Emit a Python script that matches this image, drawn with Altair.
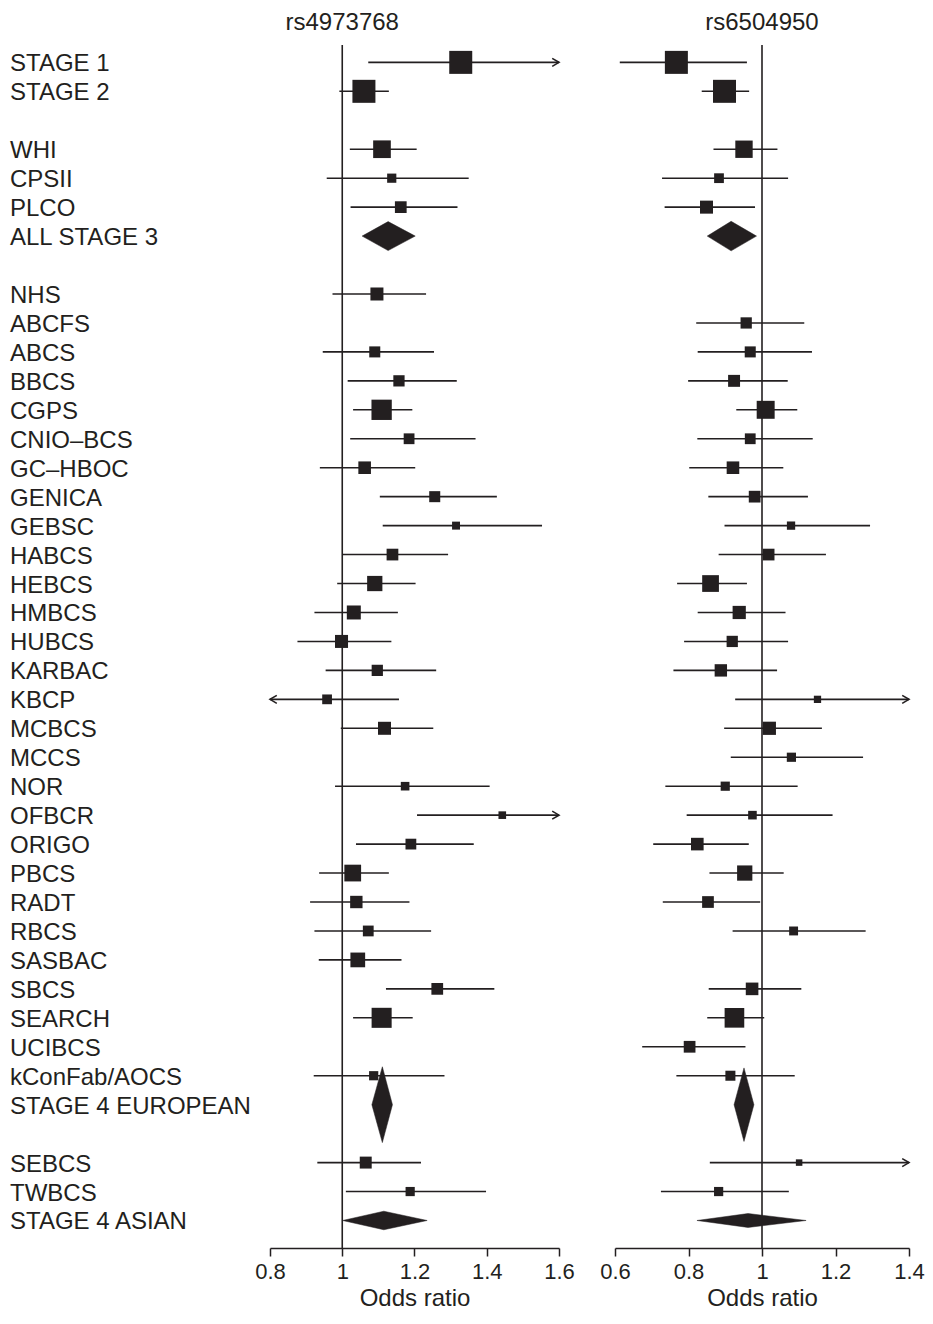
import altair as alt
import pandas as pd

INK = "#231f20"
FONT = "Liberation Sans"

# ---- row labels (top to bottom; "" = blank spacer row) ----
labels = ["STAGE 1", "STAGE 2", "", "WHI", "CPSII", "PLCO", "ALL STAGE 3", "",
          "NHS", "ABCFS", "ABCS", "BBCS", "CGPS", "CNIO–BCS", "GC–HBOC", "GENICA",
          "GEBSC", "HABCS", "HEBCS", "HMBCS", "HUBCS", "KARBAC", "KBCP", "MCBCS",
          "MCCS", "NOR", "OFBCR", "ORIGO", "PBCS", "RADT", "RBCS", "SASBAC", "SBCS",
          "SEARCH", "UCIBCS", "kConFab/AOCS", "STAGE 4 EUROPEAN", "",
          "SEBCS", "TWBCS", "STAGE 4 ASIAN"]

# ---- individual studies (squares) ----
study_names = ["STAGE 1", "STAGE 2", "WHI", "CPSII", "PLCO", "NHS", "ABCFS", "ABCS",
               "BBCS", "CGPS", "CNIO–BCS", "GC–HBOC", "GENICA", "GEBSC", "HABCS",
               "HEBCS", "HMBCS", "HUBCS", "KARBAC", "KBCP", "MCBCS", "MCCS", "NOR",
               "OFBCR", "ORIGO", "PBCS", "RADT", "RBCS", "SASBAC", "SBCS", "SEARCH",
               "UCIBCS", "kConFab/AOCS", "SEBCS", "TWBCS"]

# rs4973768
l_or = [1.328, 1.060, 1.110, 1.137, 1.162, 1.096, None, 1.090, 1.157, 1.109, 1.185,
        1.062, 1.256, 1.315, 1.139, 1.090, 1.032, 0.998, 1.097, 0.958, 1.117, None,
        1.174, 1.443, 1.190, 1.029, 1.039, 1.072, 1.043, 1.263, 1.109, None, 1.087,
        1.065, 1.188]
l_lo = [1.072, 0.992, 1.021, 0.957, 1.023, 0.973, None, 0.946, 1.015, 1.030, 1.022,
        0.938, 1.104, 1.112, 1.001, 0.986, 0.923, 0.876, 0.954, 0.780, 0.996, None,
        0.980, 1.207, 1.038, 0.936, 0.911, 0.923, 0.935, 1.121, 1.030, None, 0.921,
        0.931, 1.010]
l_hi = [1.650, 1.129, 1.206, 1.350, 1.319, 1.232, None, 1.254, 1.317, 1.194, 1.369,
        1.202, 1.428, 1.553, 1.293, 1.203, 1.154, 1.136, 1.260, 1.157, 1.252, None,
        1.408, 1.720, 1.364, 1.129, 1.186, 1.246, 1.164, 1.421, 1.195, None, 1.283,
        1.218, 1.398]
l_wt = [100, 100, 59, 16, 26, 32, None, 23, 24, 78, 22, 30, 23, 12, 26, 44, 37, 32,
        24, 18, 32, None, 14, 11, 22, 53, 29, 22, 41, 26, 76, None, 16, 27, 16]

# rs6504950
r_or = [0.767, 0.898, 0.951, 0.883, 0.849, None, 0.957, 0.968, 0.924, 1.010, 0.968,
        0.921, 0.980, 1.079, 1.018, 0.860, 0.938, 0.919, 0.888, 1.151, 1.020, 1.080,
        0.900, 0.974, 0.824, 0.953, 0.853, 1.086, None, 0.973, 0.925, 0.803, 0.914,
        1.101, 0.882]
r_lo = [0.613, 0.836, 0.868, 0.728, 0.735, None, 0.821, 0.825, 0.799, 0.930, 0.824,
        0.802, 0.854, 0.898, 0.882, 0.769, 0.825, 0.788, 0.759, 0.927, 0.897, 0.915,
        0.737, 0.795, 0.704, 0.857, 0.730, 0.920, None, 0.855, 0.851, 0.674, 0.767,
        0.858, 0.725]
r_hi = [0.959, 0.965, 1.042, 1.071, 0.981, None, 1.115, 1.136, 1.070, 1.096, 1.138,
        1.058, 1.125, 1.294, 1.174, 0.959, 1.064, 1.071, 1.041, 1.450, 1.163, 1.275,
        1.097, 1.192, 0.964, 1.059, 0.995, 1.282, None, 1.107, 1.006, 0.955, 1.089,
        1.430, 1.073]
r_wt = [100, 100, 57, 18, 32, None, 24, 23, 27, 61, 22, 30, 26, 13, 26, 53, 33, 24,
        29, 10, 33, 16, 16, 14, 30, 44, 26, 15, None, 30, 73, 26, 19, 8, 16]

# ---- pooled estimates (diamonds) ----
pooled_names = ["ALL STAGE 3", "STAGE 4 EUROPEAN", "STAGE 4 ASIAN"]
lp_or = [1.127, 1.111, 1.115]
lp_lo = [1.055, 1.082, 1.001]
lp_hi = [1.202, 1.139, 1.235]
lp_half = [0.50, 1.31, 0.32]   # diamond half-height, in rows
rp_or = [0.916, 0.951, 0.962]
rp_lo = [0.851, 0.924, 0.823]
rp_hi = [0.985, 0.978, 1.120]
rp_half = [0.51, 1.27, 0.24]

titles = ["rs4973768", "rs6504950"]
l_domain, l_ticks = [0.8, 1.6], [0.8, 1.0, 1.2, 1.4, 1.6]
r_domain, r_ticks = [0.6, 1.4], [0.6, 0.8, 1.0, 1.2, 1.4]

ROW_TOP, ROW_BOTTOM = -0.6, 40.95
ROW_PX = 28.95
PLOT_H = round((ROW_BOTTOM - ROW_TOP) * ROW_PX)

ARROW_R = "M -1.7 -1 L 0 0 L -1.7 1"
ARROW_L = "M 1.7 -1 L 0 0 L 1.7 1"


def panel(title, est, lo, hi, wt, p_est, p_lo, p_hi, p_half, domain, ticks, width,
          with_labels):
    xmin, xmax = domain
    axis = alt.Axis(values=ticks, format=".1~f", grid=False, domainColor=INK,
                    domainWidth=1.5, tickColor=INK, tickWidth=1.5, tickSize=8,
                    labelFont=FONT, labelFontSize=22, labelColor=INK, labelPadding=5,
                    labelFlush=False, labelOverlap=False, titleFont=FONT,
                    titleFontSize=24, titleFontWeight="normal", titleColor=INK,
                    titlePadding=4)
    xs = alt.Scale(domain=domain, nice=False, zero=False)
    ys = alt.Scale(domain=[ROW_TOP, ROW_BOTTOM], reverse=True, nice=False, zero=False)

    def X(f, **kw):
        return alt.X(f, type="quantitative", scale=xs, axis=axis, title="Odds ratio",
                     **kw)

    def Y(f, **kw):
        return alt.Y(f, type="quantitative", scale=ys, axis=None, **kw)

    recs, arrows = [], []
    for name, e, l, h, w in zip(study_names, est, lo, hi, wt):
        if e is None:
            continue
        r = labels.index(name)
        recs.append(dict(row=r, est=e, lo=max(l, xmin), hi=min(h, xmax), w=w))
        if h > xmax:
            arrows.append(dict(row=r, x=xmax, dir="right"))
        if l < xmin:
            arrows.append(dict(row=r, x=xmin, dir="left"))
    sd = pd.DataFrame(recs)
    ad = pd.DataFrame(arrows)

    ref = pd.DataFrame({"x": [1.0], "y": [ROW_TOP], "y2": [ROW_BOTTOM], "t": [title]})

    vline = alt.Chart(ref).mark_rule(color=INK, strokeWidth=1.6).encode(
        x=X("x"), y=Y("y"), y2=alt.Y2("y2"))
    ci = alt.Chart(sd).mark_rule(color=INK, strokeWidth=1.6).encode(
        x=X("lo"), x2=alt.X2("hi"), y=Y("row"))
    arr = alt.Chart(ad).mark_point(filled=False, color=INK, strokeWidth=1.6,
                                   opacity=1, size=64).encode(
        x=X("x"), y=Y("row"),
        shape=alt.Shape("dir:N", scale=alt.Scale(domain=["right", "left"],
                                                 range=[ARROW_R, ARROW_L]),
                        legend=None))
    sq = alt.Chart(sd).mark_point(shape="square", filled=True, color=INK,
                                  opacity=1, strokeWidth=0).encode(
        x=X("est"), y=Y("row"),
        size=alt.Size("w:Q", scale=alt.Scale(domain=[0, 100], range=[0, 529]),
                      legend=None))

    # one filled area per pooled estimate: lo -> (est, +/- half) -> hi
    diamonds = []
    for name, e, l, h, hh in zip(pooled_names, p_est, p_lo, p_hi, p_half):
        r = labels.index(name)
        dd = pd.DataFrame({"x": [l, e, h], "y": [r, r - hh, r],
                           "y2": [r, r + hh, r]})
        diamonds.append(
            alt.Chart(dd).mark_area(color=INK, opacity=1, interpolate="linear",
                                    orient="vertical", stroke=INK,
                                    strokeWidth=0.5).encode(
                x=X("x"), y=Y("y", stack=None), y2=alt.Y2("y2")))

    ttl = alt.Chart(ref).mark_text(font=FONT, fontSize=24, color=INK, align="center",
                                   baseline="alphabetic").encode(
        x=X("x"), y=alt.value(-15), text="t:N")
    layers = [vline, ci, arr] + diamonds + [sq, ttl]
    if with_labels:
        ld = pd.DataFrame({"label": labels, "row": list(range(len(labels)))})
        ld = ld[ld["label"] != ""]
        lab = alt.Chart(ld).mark_text(font=FONT, fontSize=24, color=INK,
                                      align="left", baseline="middle", dy=2).encode(
            x=alt.value(-260), y=Y("row"), text="label:N")
        layers.append(lab)
    return alt.layer(*layers).properties(width=width, height=PLOT_H)


left = panel(titles[0], l_or, l_lo, l_hi, l_wt, lp_or, lp_lo, lp_hi, lp_half,
             l_domain, l_ticks, 289, True)
right = panel(titles[1], r_or, r_lo, r_hi, r_wt, rp_or, rp_lo, rp_hi, rp_half,
              r_domain, r_ticks, 294, False)

chart = alt.hconcat(left, right, spacing=56, bounds="flush").properties(
    padding={"left": 2, "top": 3, "right": 0, "bottom": 0},
    background="white",
).configure_view(stroke=None)

chart.save("out.html", embed_options={"renderer": "svg", "actions": False})
